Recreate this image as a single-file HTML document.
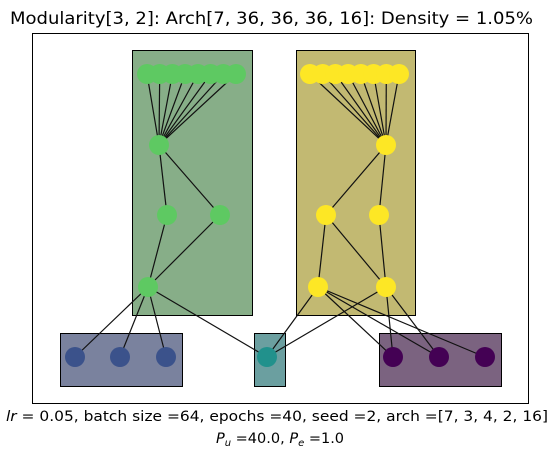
<!DOCTYPE html>
<html><head><meta charset="utf-8"><style>
body{margin:0;background:#fff;width:558px;height:459px;overflow:hidden}
text{font-family:"DejaVu Sans","Liberation Sans",sans-serif}
</style></head><body>
<svg width="558" height="459">
<text x="10" y="24" font-size="17" textLength="523" lengthAdjust="spacingAndGlyphs">Modularity[3, 2]: Arch[7, 36, 36, 36, 16]: Density = 1.05%</text>
<rect x="32.5" y="33.5" width="496" height="370" fill="#fff" stroke="#000"/>
<g id="mods"></g>
<g id="edges" stroke="#111" stroke-width="1.2"></g>
<g id="nodes"></g>
<text x="6" y="421" font-size="14.5" textLength="542" lengthAdjust="spacingAndGlyphs"><tspan font-style="italic">lr</tspan> =  0.05, batch size =64, epochs =40, seed =2, arch =[7, 3, 4, 2, 16]</text>
<text x="280" y="443" text-anchor="middle" font-size="14.5"><tspan font-style="italic">P</tspan><tspan font-size="10" dy="3" font-style="italic">u</tspan><tspan dy="-3"> =40.0, </tspan><tspan font-style="italic">P</tspan><tspan font-size="10" dy="3" font-style="italic">e</tspan><tspan dy="-3"> =1.0</tspan></text>
</svg>
<script>
const NS="http://www.w3.org/2000/svg";
const modules=[[132,50,120,265,"#87ae88","module-green"],[296,50,119,265,"#c2b972","module-yellow"],[60,333,122,53,"#7a829e","module-blue"],[254,333,31,53,"#6b9fa0","module-teal"],[379,333,122,53,"#7b6380","module-purple"]];
const nodeX=[147,159.7,172.4,185.1,197.9,210.6,223.3,236, 310,322.7,335.4,348.1,360.9,373.6,386.3,399, 159,167,220,148, 386,326,379,318,386, 75,120,166,267,393,439,485];
const nodeY=[74,74,74,74,74,74,74,74, 74,74,74,74,74,74,74,74, 145,215,215,287, 145,215,215,287,287, 357,357,357,357,357,357,357];
const nodeC="gggggggg"+"yyyyyyyy"+"gggg"+"yyyyy"+"bbb"+"t"+"ppp";
const cmap={g:"#5ec962",y:"#fde725",b:"#3b528b",t:"#21918c",p:"#440154"};
const edgeFrom=[0,1,2,3,4,5,6,7, 8,9,10,11,12,13,14,15, 16,16,17,18,19,19,19,19, 20,20,21,21,22,23,23,23,23,24,24,24];
const edgeTo=[16,16,16,16,16,16,16,16, 20,20,20,20,20,20,20,20, 17,18,19,19,25,26,27,28, 21,22,23,24,24,28,29,30,31,28,29,30];
const mg=document.getElementById("mods");
modules.forEach(m=>{const r=document.createElementNS(NS,"rect");
r.setAttribute("x",m[0]+.5);r.setAttribute("y",m[1]+.5);r.setAttribute("width",m[2]);r.setAttribute("height",m[3]);r.setAttribute("fill",m[4]);r.setAttribute("stroke","#000");


mg.appendChild(r);});
const eg=document.getElementById("edges");
edgeFrom.forEach((f,i)=>{const t=edgeTo[i];const l=document.createElementNS(NS,"line");
l.setAttribute("x1",nodeX[f]);l.setAttribute("y1",nodeY[f]);l.setAttribute("x2",nodeX[t]);l.setAttribute("y2",nodeY[t]);


eg.appendChild(l);});
const ng=document.getElementById("nodes");
nodeX.forEach((x,i)=>{const c=document.createElementNS(NS,"circle");
c.setAttribute("cx",x);c.setAttribute("cy",nodeY[i]);c.setAttribute("r",10);c.setAttribute("fill",cmap[nodeC.charAt(i)]);


ng.appendChild(c);});
</script>
</body></html>
